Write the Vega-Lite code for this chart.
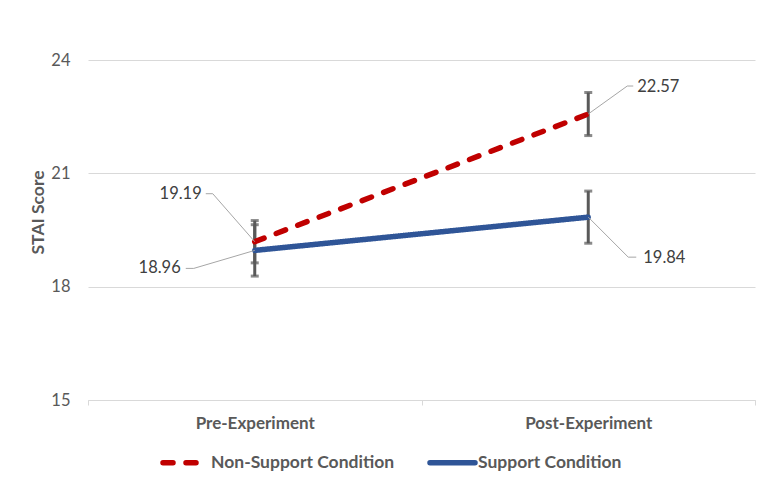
{
  "$schema": "https://vega.github.io/schema/vega-lite/v6.json",
  "width": 667,
  "height": 340,
  "autosize": {"type": "none"},
  "padding": {"left": 88, "top": 60, "right": 22, "bottom": 93},
  "background": "white",
  "config": {"view": {"stroke": null}},
  "data": {
    "values": [
      {"phase": "Pre-Experiment", "condition": "Non-Support Condition", "mean": 19.19, "lo": 18.63, "hi": 19.75},
      {"phase": "Pre-Experiment", "condition": "Support Condition", "mean": 18.96, "lo": 18.28, "hi": 19.64},
      {"phase": "Post-Experiment", "condition": "Non-Support Condition", "mean": 22.57, "lo": 22.0, "hi": 23.14},
      {"phase": "Post-Experiment", "condition": "Support Condition", "mean": 19.84, "lo": 19.15, "hi": 20.53}
    ]
  },
  "encoding": {
    "x": {
      "field": "phase",
      "type": "nominal",
      "scale": {"domain": ["Pre-Experiment", "Post-Experiment"], "paddingInner": 0, "paddingOuter": 0},
      "axis": {
        "title": null,
        "labelAngle": 0,
        "labelFont": "Lato",
        "labelFontSize": 17,
        "labelFontWeight": "bold",
        "labelColor": "#595959",
        "labelBaseline": "middle",
        "labelPadding": 18,
        "domainColor": "#D9D9D9",
        "tickColor": "#D9D9D9",
        "tickSize": 5,
        "tickBand": "extent",
        "grid": false
      }
    },
    "y": {
      "field": "mean",
      "type": "quantitative",
      "scale": {"domain": [15, 24], "nice": false, "zero": false},
      "axis": {
        "title": "STAI Score",
        "values": [15, 18, 21, 24],
        "domain": false,
        "ticks": false,
        "grid": true,
        "gridColor": "#D9D9D9",
        "labelFont": "Lato",
        "labelFontSize": 16.5,
        "labelColor": "#595959",
        "labelPadding": 18,
        "titleFont": "Lato",
        "titleFontSize": 17.5,
        "titleFontWeight": "bold",
        "titleColor": "#595959",
        "titleX": -50,
        "titleY": 152,
        "titleBaseline": "middle",
        "titleAlign": "center"
      }
    }
  },
  "layer": [
    {
      "mark": {"type": "errorbar", "ticks": true, "color": "#595959", "thickness": 3, "size": 8},
      "encoding": {
        "y": {"field": "lo", "type": "quantitative", "title": "STAI Score"},
        "y2": {"field": "hi"}
      }
    },
    {
      "mark": {"type": "line", "strokeWidth": 5.5, "strokeCap": "round"},
      "encoding": {
        "color": {
          "field": "condition",
          "type": "nominal",
          "scale": {"range": ["#C00000", "#2F5597"]},
          "legend": {
            "title": null,
            "orient": "none",
            "legendX": 72,
            "legendY": 377,
            "direction": "horizontal",
            "symbolType": "stroke",
            "symbolSize": 2025,
            "symbolStrokeWidth": 5.5,
            "labelFont": "Lato",
            "labelFontSize": 17.5,
            "labelFontWeight": "bold",
            "labelColor": "#595959",
            "labelOffset": 0,
            "labelLimit": 400,
            "columnPadding": 24,
            "encode": {"symbols": {"update": {"strokeCap": {"value": "round"}}}}
          }
        },
        "strokeDash": {
          "field": "condition",
          "type": "nominal",
          "scale": {"range": [[10, 13], [1, 0]]},
          "legend": null
        }
      }
    },
    {
      "transform": [{"filter": "datum.phase == 'Pre-Experiment' && datum.condition == 'Non-Support Condition'"}],
      "layer": [
        {
          "mark": {"type": "rule", "color": "#A6A6A6", "strokeWidth": 1, "x2Offset": -42, "y2Offset": -48},
          "encoding": {"x": {"field": "phase", "type": "nominal", "bandPosition": 0.5}, "x2": {"field": "phase", "bandPosition": 0.5}, "y2": {"field": "mean"}}
        },
        {
          "mark": {"type": "rule", "color": "#A6A6A6", "strokeWidth": 1, "xOffset": -42, "yOffset": -48, "x2Offset": -49, "y2Offset": -48},
          "encoding": {"x": {"field": "phase", "type": "nominal", "bandPosition": 0.5}, "x2": {"field": "phase", "bandPosition": 0.5}, "y2": {"field": "mean"}}
        },
        {
          "mark": {"type": "text", "align": "right", "baseline": "middle", "dx": -53, "dy": -48, "font": "Lato", "fontSize": 16.5, "color": "#404040"},
          "encoding": {"text": {"field": "mean", "type": "quantitative", "format": ".2f"}}
        }
      ]
    },
    {
      "transform": [{"filter": "datum.phase == 'Pre-Experiment' && datum.condition == 'Support Condition'"}],
      "layer": [
        {
          "mark": {"type": "rule", "color": "#A6A6A6", "strokeWidth": 1, "x2Offset": -61, "y2Offset": 18},
          "encoding": {"x": {"field": "phase", "type": "nominal", "bandPosition": 0.5}, "x2": {"field": "phase", "bandPosition": 0.5}, "y2": {"field": "mean"}}
        },
        {
          "mark": {"type": "rule", "color": "#A6A6A6", "strokeWidth": 1, "xOffset": -61, "yOffset": 18, "x2Offset": -69, "y2Offset": 18},
          "encoding": {"x": {"field": "phase", "type": "nominal", "bandPosition": 0.5}, "x2": {"field": "phase", "bandPosition": 0.5}, "y2": {"field": "mean"}}
        },
        {
          "mark": {"type": "text", "align": "right", "baseline": "middle", "dx": -74, "dy": 18, "font": "Lato", "fontSize": 16.5, "color": "#404040"},
          "encoding": {"text": {"field": "mean", "type": "quantitative", "format": ".2f"}}
        }
      ]
    },
    {
      "transform": [{"filter": "datum.phase == 'Post-Experiment' && datum.condition == 'Non-Support Condition'"}],
      "layer": [
        {
          "mark": {"type": "rule", "color": "#A6A6A6", "strokeWidth": 1, "x2Offset": 39, "y2Offset": -28},
          "encoding": {"x": {"field": "phase", "type": "nominal", "bandPosition": 0.5}, "x2": {"field": "phase", "bandPosition": 0.5}, "y2": {"field": "mean"}}
        },
        {
          "mark": {"type": "rule", "color": "#A6A6A6", "strokeWidth": 1, "xOffset": 39, "yOffset": -28, "x2Offset": 45, "y2Offset": -28},
          "encoding": {"x": {"field": "phase", "type": "nominal", "bandPosition": 0.5}, "x2": {"field": "phase", "bandPosition": 0.5}, "y2": {"field": "mean"}}
        },
        {
          "mark": {"type": "text", "align": "left", "baseline": "middle", "dx": 49, "dy": -27, "font": "Lato", "fontSize": 16.5, "color": "#404040"},
          "encoding": {"text": {"field": "mean", "type": "quantitative", "format": ".2f"}}
        }
      ]
    },
    {
      "transform": [{"filter": "datum.phase == 'Post-Experiment' && datum.condition == 'Support Condition'"}],
      "layer": [
        {
          "mark": {"type": "rule", "color": "#A6A6A6", "strokeWidth": 1, "x2Offset": 40, "y2Offset": 40},
          "encoding": {"x": {"field": "phase", "type": "nominal", "bandPosition": 0.5}, "x2": {"field": "phase", "bandPosition": 0.5}, "y2": {"field": "mean"}}
        },
        {
          "mark": {"type": "rule", "color": "#A6A6A6", "strokeWidth": 1, "xOffset": 40, "yOffset": 40, "x2Offset": 48, "y2Offset": 40},
          "encoding": {"x": {"field": "phase", "type": "nominal", "bandPosition": 0.5}, "x2": {"field": "phase", "bandPosition": 0.5}, "y2": {"field": "mean"}}
        },
        {
          "mark": {"type": "text", "align": "left", "baseline": "middle", "dx": 55, "dy": 41, "font": "Lato", "fontSize": 16.5, "color": "#404040"},
          "encoding": {"text": {"field": "mean", "type": "quantitative", "format": ".2f"}}
        }
      ]
    }
  ]
}
